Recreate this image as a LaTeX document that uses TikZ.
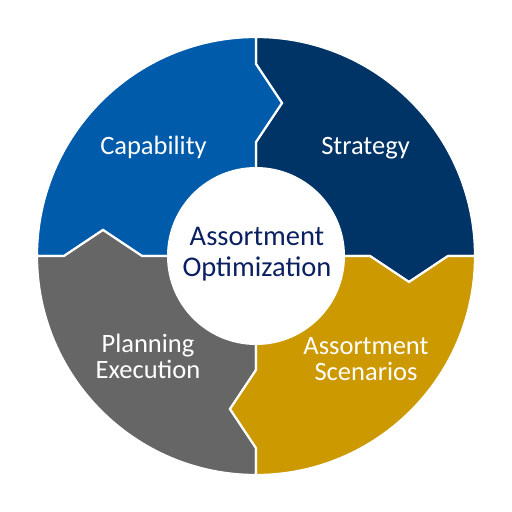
\documentclass[tikz,border=0pt]{standalone}
\usepackage{fontspec}
\setmainfont{Carlito}
\definecolor{capblue}{HTML}{005BAA}
\definecolor{stratnavy}{HTML}{003366}
\definecolor{scengold}{HTML}{CC9900}
\definecolor{plangray}{HTML}{666666}
\definecolor{hubtext}{HTML}{0A2060}

\begin{document}
\begin{tikzpicture}[x=1pt,y=1pt]
    \tikzstyle{seg}=[draw=white, line width=2.2pt, line join=miter]
    \tikzstyle{lbl}=[text=white, align=center, anchor=base, font=\fontsize{26.5}{25.5}\selectfont]
    \tikzstyle{hub}=[text=hubtext, align=center, anchor=base, font=\fontsize{28.5}{31}\selectfont]
    \useasboundingbox (-256,-256) rectangle (256,256);
    % four segments, each with a notch in and a tip out (clockwise)
    \foreach \ang/\col in {0/stratnavy, 90/capblue, 180/plangray, 270/scengold}
        \filldraw[seg, fill=\col, rotate=\ang]
            (0,0) -- (0,114) -- (26,153) -- (0,192) -- (0,219)
            arc (90:0:219) -- (192,0) -- (153,-26) -- (114,0) -- cycle;
    \fill[white] (0,0) circle (89);
    \node[lbl] (cap) at (-102.5,102) {Capability};
    \node[lbl] (strat) at (109.5,102) {Strategy};
    \node[lbl] (plan) at (-108,-122) {Planning\\Execution};
    \node[lbl] (scen) at (110,-124) {Assortment\\Scenarios};
    \node[hub] (hub) at (1,-20) {Assortment\\Optimization};
\end{tikzpicture}
\end{document}
